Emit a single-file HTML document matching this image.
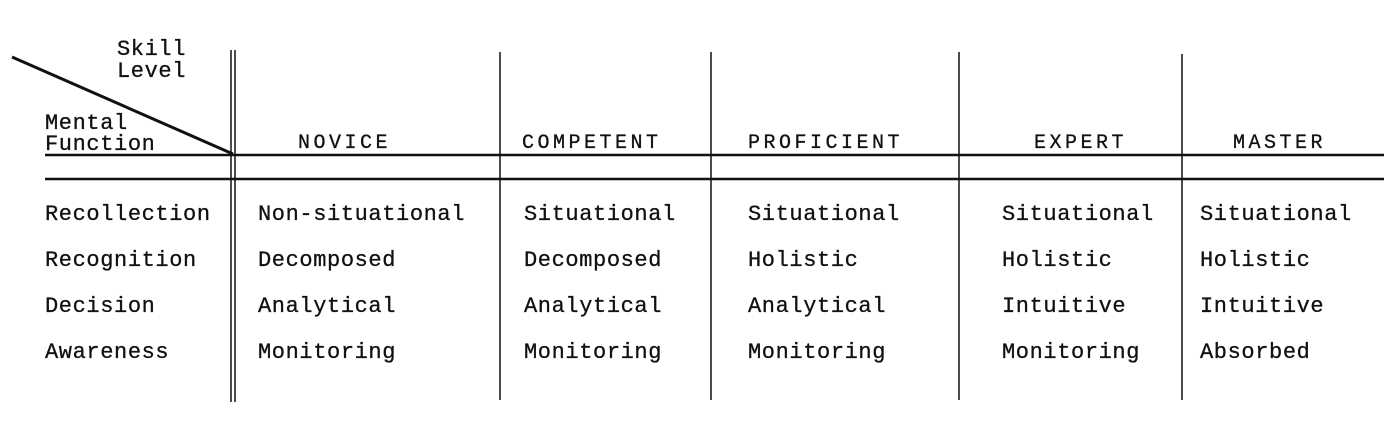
<!DOCTYPE html>
<html><head><meta charset="utf-8"><style>
html,body{margin:0;padding:0;background:#fff;width:1398px;height:446px;overflow:hidden}
text{font-family:"Liberation Mono",monospace;font-size:22px;fill:#111;letter-spacing:0.6px;stroke:#111;stroke-width:0.3px}
.h{letter-spacing:3.5px;font-size:20px}
</style></head><body>
<svg width="1398" height="446" xmlns="http://www.w3.org/2000/svg">
<g stroke="#111" fill="none">
<line x1="12" y1="57" x2="233" y2="154" stroke-width="3"/>
<line x1="231" y1="50" x2="231" y2="402" stroke-width="1.5"/>
<line x1="235" y1="50" x2="235" y2="402" stroke-width="1.5"/>
<line x1="500" y1="52" x2="500" y2="400" stroke-width="1.5"/>
<line x1="711" y1="52" x2="711" y2="400" stroke-width="1.5"/>
<line x1="959" y1="52" x2="959" y2="400" stroke-width="1.5"/>
<line x1="1182" y1="54" x2="1182" y2="400" stroke-width="1.5"/>
<line x1="45" y1="155" x2="1384" y2="155" stroke-width="2.5"/>
<line x1="45" y1="179" x2="1384" y2="179" stroke-width="2.5"/>
</g>
<text x="117" y="55">Skill</text>
<text x="117" y="77">Level</text>
<text x="45" y="129">Mental</text>
<text x="45" y="150">Function</text>
<text class="h" x="298" y="148">NOVICE</text>
<text class="h" x="522" y="148">COMPETENT</text>
<text class="h" x="748" y="148">PROFICIENT</text>
<text class="h" x="1034" y="148">EXPERT</text>
<text class="h" x="1233" y="148">MASTER</text>
<text x="45" y="220">Recollection</text>
<text x="45" y="266">Recognition</text>
<text x="45" y="312">Decision</text>
<text x="45" y="358">Awareness</text>
<text x="258" y="220">Non-situational</text>
<text x="258" y="266">Decomposed</text>
<text x="258" y="312">Analytical</text>
<text x="258" y="358">Monitoring</text>
<text x="524" y="220">Situational</text>
<text x="524" y="266">Decomposed</text>
<text x="524" y="312">Analytical</text>
<text x="524" y="358">Monitoring</text>
<text x="748" y="220">Situational</text>
<text x="748" y="266">Holistic</text>
<text x="748" y="312">Analytical</text>
<text x="748" y="358">Monitoring</text>
<text x="1002" y="220">Situational</text>
<text x="1002" y="266">Holistic</text>
<text x="1002" y="312">Intuitive</text>
<text x="1002" y="358">Monitoring</text>
<text x="1200" y="220">Situational</text>
<text x="1200" y="266">Holistic</text>
<text x="1200" y="312">Intuitive</text>
<text x="1200" y="358">Absorbed</text>
</svg>
</body></html>
